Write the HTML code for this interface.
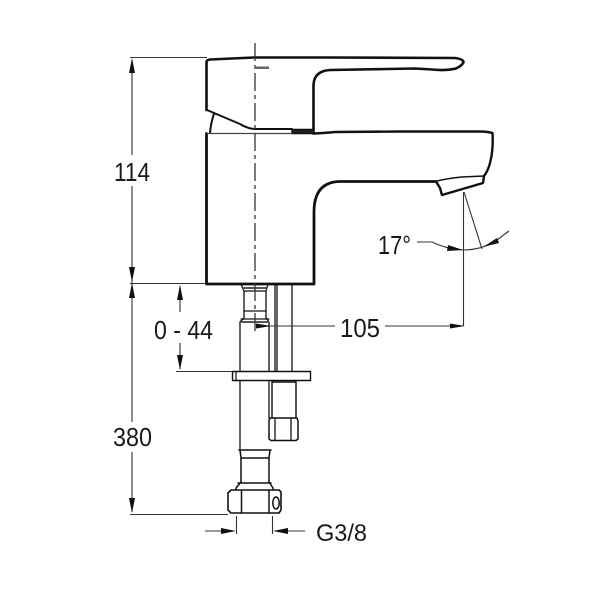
<!DOCTYPE html>
<html>
<head>
<meta charset="utf-8">
<style>
html,body{margin:0;padding:0;background:#fff;width:600px;height:600px;overflow:hidden}
svg{display:block;filter:blur(0.35px)}
text{font-family:"Liberation Sans",sans-serif;font-size:26px;fill:#1a1a1a}
</style>
</head>
<body>
<svg width="600" height="600" viewBox="0 0 600 600" xmlns="http://www.w3.org/2000/svg">
<rect width="600" height="600" fill="#fff"/>
<g fill="none" stroke="#111" stroke-linejoin="round" stroke-linecap="round">
<!-- handle -->
<path stroke-width="2.600" d="M206.500 110V62Q206.500 60 210 59.500L254 57.500L330 57.500L455 58Q463 59 463.500 62Q463 65 456 68.500Q445 71 432 69.500L415 68.500L330 70Q314 71 313.500 85V129"/>
<path stroke-width="2" d="M207 110L240 124Q248 129 256 129H292"/>
<path stroke-width="2" d="M214 114Q211 122 210 133"/>
<rect x="292" y="129.500" width="22" height="4" fill="#222" stroke-width="1.500"/>
<!-- body and spout -->
<path stroke-width="2.800" d="M206.500 133.500V284H314V212Q314 182 340 181.500H436"/>
<path stroke-width="2.400" d="M313 133.500Q325 133 335 132L400 131.500H480Q487 131.500 492.500 133Q493.500 150 490 163Q488 171 484 176"/>
<path stroke-width="2.400" d="M436 181.500L440 188L442 195L483 183L484 176"/>
<path stroke-width="1.500" d="M437 181Q450 178 462 177L484 176"/>
<path stroke-width="1.200" stroke="#444" d="M207 133.500H292"/>
<!-- lower tubes -->
<path stroke-width="1.300" d="M241 284L244 291V318L240 322V371M268 284L266 291V318L269 322V371"/>
<path stroke-width="1.300" d="M244 291H266M244 311H266M241 319H269"/>
<path stroke-width="2" stroke="#555" d="M244 288H266M242 322H268"/>
<path stroke-width="1.300" d="M275 284V371M277 284V371M292 284V371"/>
<rect x="232.500" y="371.500" width="78" height="9" stroke-width="1.400"/>
<path stroke-width="1.200" d="M236 372V381"/>
<path stroke-width="1.300" d="M240 381V450M269 381V418"/>
<path stroke-width="1.400" d="M272 381V418M296 381V418M272 382H296"/>
<path stroke-width="1.500" d="M270 418H297L298 421V439L296 440.500H271L269 439V420Z"/>
<path stroke-width="1.300" d="M275 419V440M291 419V440"/>
<path stroke-width="1.500" d="M239 450H271M240 450L241 458H269L270 450M241 458V482M269 458V482"/>
<path stroke-width="1.500" d="M241 482L236 488V490M269 482L273 488V490M238 483H271"/>
<path stroke-width="1.600" d="M231 490H279L281 492V510L279 513H231L228 510V493Z"/>
<path stroke-width="1.500" d="M241.500 491V513M269 491V513"/>
<ellipse cx="276" cy="503" rx="3.200" ry="6" stroke-width="1.500"/>
</g>
<!-- center line -->
<path d="M255 43V335" fill="none" stroke="#333" stroke-width="1.300" stroke-dasharray="18 4 4 4"/>
<rect x="255" y="66.500" width="14" height="2.500" fill="#666"/>
<g fill="none" stroke="#333" stroke-width="1.100">
<!-- dimension lines -->
<path d="M130 57.500H207M130 283.500H206M130 514.500H228M176 371.500H232"/>
<path d="M132 60V155M132 186V422M132 452V512"/>
<path d="M180 286V312M180 343V369"/>
<path d="M258 326H335M385 326H463"/>
<path d="M463.500 192V326"/>
<path d="M464 192L482 249"/>
<path d="M236.500 516V534M272.500 516V534"/>
<path d="M205 531H234M275 531H305"/>
<path d="M417 242H432Q446 249 463 250Q482 250 497 240L509 231"/>
</g>
<g fill="#111">
<polygon points="132,58 129,73 135,73"/>
<polygon points="132,283 129,298 135,298"/>
<polygon points="132,513 129,498 135,498"/>
<polygon points="132,282 129,267 135,267"/>
<polygon points="180,285 177,300 183,300"/>
<polygon points="180,370 177,355 183,355"/>
<polygon points="271,326 256,323.500 256,328.500"/>
<polygon points="465,326 450,323.500 450,328.500"/>
<polygon points="236,531 221,528 221,534"/>
<polygon points="273,531 288,528 288,534"/>
<polygon points="463,250 448,245 447,251"/>
<polygon points="483,247 497,238 499,243"/>
</g>
<text x="114" y="181" textLength="36" lengthAdjust="spacingAndGlyphs">114</text>
<text x="113" y="446" textLength="39" lengthAdjust="spacingAndGlyphs">380</text>
<text x="154" y="339" textLength="59" lengthAdjust="spacingAndGlyphs">0 - 44</text>
<text x="340" y="337" textLength="40" lengthAdjust="spacingAndGlyphs">105</text>
<text x="378" y="254" textLength="33" lengthAdjust="spacingAndGlyphs">17°</text>
<text x="316" y="541" textLength="51" lengthAdjust="spacingAndGlyphs" style="font-size:24px">G3/8</text>
</svg>
</body>
</html>
